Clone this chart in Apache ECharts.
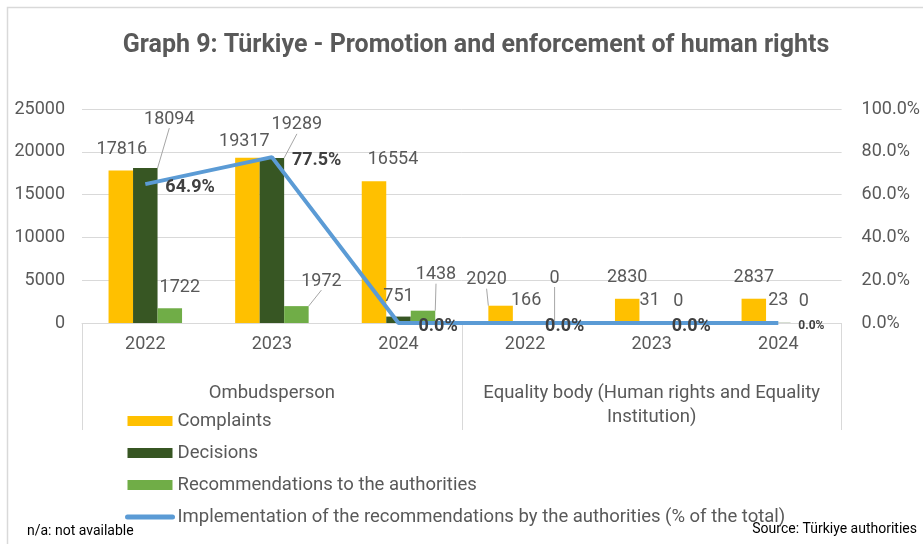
<!DOCTYPE html>
<html>
<head>
<meta charset="utf-8">
<script src="https://cdn.jsdelivr.net/npm/echarts@6/dist/echarts.min.js"></script>
<style>
  html, body { margin: 0; padding: 0; background: #fff; }
  #chart_1 { width: 923px; height: 544px; }
</style>
</head>
<body>
<div id="chart_1"></div>
<script>
var years = ['2022', '2023', '2024', '2022', '2023', '2024'];
var groups = ['Ombudsperson', 'Equality body (Human rights and Equality\nInstitution)'];
var complaints = [17816, 19317, 16554, 2020, 2830, 2837];
var decisions = [18094, 19289, 751, 166, 31, 23];
var recommendations = [1722, 1972, 1438, 0, 0, 0];
var implementation = [64.9, 77.5, 0.0, 0.0, 0.0, 0.0];

// label nudges (dx, dy) and which labels get a leader line, like the Excel original
var labelShift = [
	[[1, -7], [-3, -2], [19, -8], [-14, -12], [0, -7], [0, -7]],
	[[24, -35], [25, -19], [0, -6], [1, -7], [-2, -8], [0, -8]],
	[[10, -7], [25, -11], [13, -22], [5, -31], [2, -8], [1, -8]]
];
var leaderLines = [[3], [0, 1], [1, 2, 3]];

var dom = document.getElementById('chart_1');
var myChart = echarts.init(dom);
var textGray = '#595959';
var font = 'Roboto';

function barData(values, s) {
	return values.map(function (v, i) {
		var item = { value: v };
		if (leaderLines[s].indexOf(i) >= 0) {
			item.labelLine = { show: true };
		}
		return item;
	});
}

function barSeries(name, values, s, color) {
	return {
		name: name,
		type: 'bar',
		barWidth: 24.5,
		barGap: '0%',
		itemStyle: { color: color },
		label: {
			show: true,
			position: 'top',
			color: textGray,
			fontFamily: font,
			fontSize: 18
		},
		labelLine: {
			show: false,
			lineStyle: { color: '#a6a6a6', width: 1 }
		},
		labelLayout: function (params) {
			var d = labelShift[s][params.dataIndex];
			return { dx: d[0], dy: d[1] };
		},
		data: barData(values, s)
	};
}

var lineData = implementation.map(function (v, i) {
	if (i === implementation.length - 1) {
		return { value: v, label: { fontSize: 12 } };
	}
	return v;
});

var lineName = 'Implementation of the recommendations by the authorities (% of the total)';

var option = {
	backgroundColor: '#ffffff',
	animation: false,
	title: {
		text: 'Graph 9: Türkiye - Promotion and enforcement of human rights',
		left: 471,
		top: 28,
		textAlign: 'center',
		textStyle: {
			color: textGray,
			fontFamily: font,
			fontWeight: 'bold',
			fontSize: 25
		}
	},
	legend: {
		orient: 'vertical',
		left: 125,
		top: 410,
		padding: 0,
		itemWidth: 45,
		itemHeight: 10,
		itemGap: 10,
		textStyle: {
			color: textGray,
			fontFamily: font,
			fontSize: 18.5,
			lineHeight: 22
		},
		data: [
			{ name: 'Complaints', icon: 'rect' },
			{ name: 'Decisions', icon: 'rect' },
			{ name: 'Recommendations to the authorities', icon: 'rect' },
			{ name: lineName, itemStyle: { opacity: 0 }, lineStyle: { width: 5, cap: 'round' } }
		]
	},
	grid: {
		left: 82,
		right: 75,
		top: 109,
		bottom: 221
	},
	xAxis: [
		{
			type: 'category',
			data: years,
			axisLine: { show: true, lineStyle: { color: '#d9d9d9' } },
			axisTick: { show: false },
			axisLabel: {
				color: textGray,
				fontFamily: font,
				fontSize: 18,
				margin: 12
			}
		},
		{
			type: 'category',
			data: groups,
			position: 'bottom',
			offset: 0,
			axisLine: { show: false },
			axisTick: {
				show: true,
				interval: 0,
				length: 107,
				lineStyle: { color: '#d9d9d9' }
			},
			axisLabel: {
				interval: 0,
				color: textGray,
				fontFamily: font,
				fontSize: 18.5,
				lineHeight: 24,
				margin: 58
			}
		}
	],
	yAxis: [
		{
			type: 'value',
			min: 0,
			max: 25000,
			interval: 5000,
			axisLine: { show: false },
			axisTick: { show: false },
			splitLine: { lineStyle: { color: '#d9d9d9' } },
			axisLabel: {
				color: textGray,
				fontFamily: font,
				fontSize: 18,
				margin: 17,
				formatter: function (v) { return String(v); }
			}
		},
		{
			type: 'value',
			min: 0,
			max: 100,
			interval: 20,
			axisLine: { show: false },
			axisTick: { show: false },
			splitLine: { show: false },
			axisLabel: {
				color: textGray,
				fontFamily: font,
				fontSize: 18,
				margin: 20,
				formatter: function (v) { return v.toFixed(1) + '%'; }
			}
		}
	],
	graphic: [
		{
			type: 'rect',
			silent: true,
			shape: { x: 7.5, y: 7.5, width: 1000, height: 1000 },
			style: { fill: 'none', stroke: '#d9d9d9', lineWidth: 1.5 }
		},
		{
			type: 'text',
			left: 27,
			top: 524,
			style: { text: 'n/a: not available', fill: '#000', font: '14px Roboto' }
		},
		{
			type: 'text',
			right: 6,
			top: 522,
			style: { text: 'Source: Türkiye authorities', fill: '#000', font: '14px Roboto' }
		}
	],
	series: [
		barSeries('Complaints', complaints, 0, '#FFC000'),
		barSeries('Decisions', decisions, 1, '#375623'),
		barSeries('Recommendations to the authorities', recommendations, 2, '#70AD47'),
		{
			name: lineName,
			type: 'line',
			yAxisIndex: 1,
			symbol: 'circle',
			symbolSize: 0,
			showSymbol: true,
			lineStyle: { color: '#5B9BD5', width: 4 },
			itemStyle: { color: '#5B9BD5' },
			label: {
				show: true,
				position: 'right',
				distance: 20,
				offset: [0, 3],
				color: '#404040',
				fontFamily: font,
				fontWeight: 'bold',
				fontSize: 18,
				formatter: function (p) { return p.value.toFixed(1) + '%'; }
			},
			data: lineData
		}
	]
};

if (option && typeof option === 'object') {
	myChart.setOption(option, true);
}
</script>
</body>
</html>
